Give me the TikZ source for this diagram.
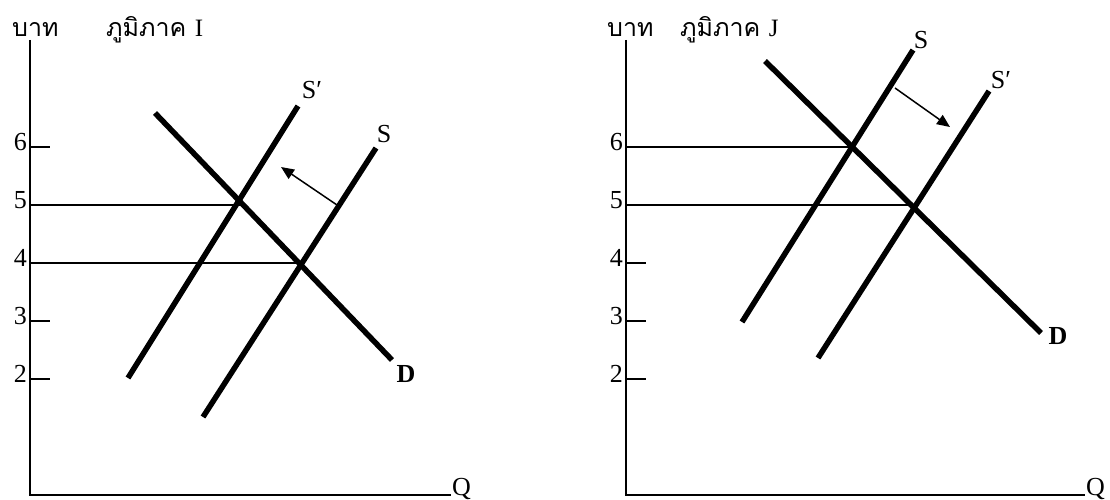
\documentclass[tikz,border=0pt]{standalone}
\usepackage{fontspec}
\setmainfont{Liberation Serif}
\newfontfamily\thaifont[Script=Thai]{Loma}
\usetikzlibrary{arrows.meta}
\begin{document}
\begin{tikzpicture}[x=1pt,y=-1pt,
  axisline/.style={line width=2pt},
  curve/.style={line width=5.5pt},
  guide/.style={line width=1.3pt},
  shiftarrow/.style={line width=1.5pt,-{Triangle[length=13pt,width=11pt]}},
  numlab/.style={font=\fontsize{26}{28}\selectfont,inner sep=0pt,anchor=east},
  curvelab/.style={font=\fontsize{26}{28}\selectfont,inner sep=0pt},
  boldlab/.style={font=\fontsize{26}{28}\selectfont\bfseries,inner sep=0pt},
  thailab/.style={font=\fontsize{25}{28}\thaifont,inner sep=0pt,anchor=base west}]
\useasboundingbox (0,0) rectangle (1110,500);

% ---------------- Left panel ----------------
\coordinate (LO) at (30,495);
\coordinate (LT) at (30,40);
\coordinate (LX) at (451,495);
\draw[axisline] (LT) -- (LO) -- (LX);
\node[thailab] (Lbaht) at (12,37) {บาท};
\node[thailab] (Ltitle) at (106,37) {ภูมิภาค \fontspec{Liberation Serif}I};
\node[curvelab,anchor=west] (LQ) at (452,489) {Q};
\foreach \v/\y in {6/147,5/205,4/263,3/321,2/379}{
  \coordinate (Lt\v) at (30,\y);
  \coordinate (Lte\v) at (50,\y);
  \draw[guide] (Lt\v) -- (Lte\v);
  \node[numlab] (Ln\v) at (27,\y-5) {\v};
}
% curves
\coordinate (LDa) at (155,113);
\coordinate (LDb) at (392,360);
\coordinate (LSpa) at (128,378);
\coordinate (LSpb) at (298,106);
\coordinate (LSa) at (203,417);
\coordinate (LSb) at (376,148);
\draw[curve] (LDa) -- (LDb);
\draw[curve] (LSpa) -- (LSpb);
\draw[curve] (LSa) -- (LSb);
\node[boldlab] (LDl) at (406,374) {D};
\node[curvelab] (LSl) at (384,134) {S};
\node[curvelab] (LSpl) at (312,90) {S′};
% equilibrium guides
\coordinate (LE5) at (240,205);
\coordinate (LE4) at (299,263);
\draw[guide] (Lt5) -- (LE5);
\draw[guide] (Lt4) -- (LE4);
% shift arrow
\coordinate (LAa) at (337,205);
\coordinate (LAb) at (281,167);
\draw[shiftarrow] (LAa) -- (LAb);

% ---------------- Right panel ----------------
\coordinate (RO) at (626,495);
\coordinate (RT) at (626,40);
\coordinate (RX) at (1085,495);
\draw[axisline] (RT) -- (RO) -- (RX);
\node[thailab] (Rbaht) at (607,37) {บาท};
\node[thailab] (Rtitle) at (680,37) {ภูมิภาค \fontspec{Liberation Serif}J};
\node[curvelab,anchor=west] (RQ) at (1086,489) {Q};
\foreach \v/\y in {6/147,5/205,4/263,3/321,2/379}{
  \coordinate (Rt\v) at (626,\y);
  \coordinate (Rte\v) at (646,\y);
  \draw[guide] (Rt\v) -- (Rte\v);
  \node[numlab] (Rn\v) at (623,\y-5) {\v};
}
\coordinate (RDa) at (765,61);
\coordinate (RDb) at (1041,333);
\coordinate (RSa) at (742,322);
\coordinate (RSb) at (913,50);
\coordinate (RSpa) at (818,358);
\coordinate (RSpb) at (989,91);
\draw[curve] (RDa) -- (RDb);
\draw[curve] (RSa) -- (RSb);
\draw[curve] (RSpa) -- (RSpb);
\node[boldlab] (RDl) at (1058,336) {D};
\node[curvelab] (RSl) at (921,40) {S};
\node[curvelab] (RSpl) at (1001,80) {S′};
\coordinate (RE6) at (852,147);
\coordinate (RE5) at (913,205);
\draw[guide] (Rt6) -- (RE6);
\draw[guide] (Rt5) -- (RE5);
\coordinate (RAa) at (895,88);
\coordinate (RAb) at (950,127);
\draw[shiftarrow] (RAa) -- (RAb);
\end{tikzpicture}
\end{document}
